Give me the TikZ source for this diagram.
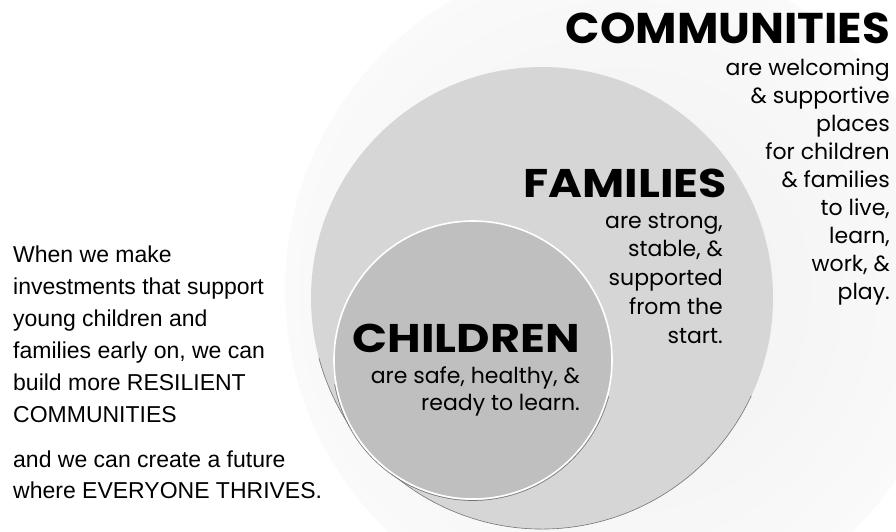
\documentclass[tikz,border=0pt]{standalone}
\usepackage{fontspec}
\setmainfont{Liberation Sans}
\newfontfamily\headfont{Poppins}
\newfontfamily\headwide{Poppins}[FakeStretch=1.15]
\newfontfamily\headcomm{Poppins}[FakeStretch=1.05]

\tikzset{
  headline/.style 2 args={font=#1\bfseries\fontsize{#2}{#2}\selectfont, inner sep=0pt, anchor=base east},
  blurb/.style={font=\headfont\fontsize{22}{22}\selectfont, inner sep=0pt, anchor=base east},
  story/.style={font=\fontsize{23}{23}\selectfont, inner sep=0pt, anchor=base west},
  kidrim/.style={draw=white, line width=1.6pt},
  edgeline/.style={draw=black!55, line width=0.6pt}
}

\begin{document}
\begin{tikzpicture}[x=1pt,y=-1pt]
\useasboundingbox (0,0) rectangle (896,531);

% circles, biggest first
\coordinate (comm) at (620,290);
\coordinate (fam) at (542,298);
\coordinate (kid) at (473,360);
\shade[inner color=black!6, outer color=black!2] (comm) circle[radius=335];
\fill[black!16] (fam) circle[radius=231];
\draw[edgeline] ([shift={(165:231)}]fam) arc[start angle=165, end angle=25, radius=231];
\fill[black!25] (kid) circle[radius=139];
\draw[kidrim] (kid) circle[radius=139];
\draw[edgeline] ([shift={(170:140.5)}]kid) arc[start angle=170, end angle=15, radius=140.5];

% communities
\node[headline={\headcomm}{43}] (commtitle) at (890,43) {COMMUNITIES};
\foreach \txt [count=\i] in {are welcoming, \& supportive, places, for children, \& families, {to live,}, {learn,}, {work, \&}, play.}
  \node[blurb] (comm\i) at (890,47+28*\i) {\txt};

% families
\node[headline={\headwide}{40}] (famtitle) at (727,197) {FAMILIES};
\foreach \txt [count=\i] in {{are strong,}, {stable, \&}, supported, from the, start.}
  \node[blurb] (fam\i) at (723,199.5+28.7*\i) {\txt};

% children
\node[headline={\headwide}{40}] (kidtitle) at (580,352) {CHILDREN};
\node[blurb] (kid1) at (580,383) {are safe, healthy, \&};
\node[blurb] (kid2) at (580,410) {ready to learn.};

% the text on the left
\foreach \txt [count=\i] in {When we make, investments that support, young children and, {families early on, we can}, build more RESILIENT, COMMUNITIES}
  \node[story] (why\i) at (13,230+32*\i) {\txt};
\node[story] (why7) at (13,467) {and we can create a future};
\node[story] (why8) at (13,498) {where EVERYONE THRIVES.};
\end{tikzpicture}
\end{document}
